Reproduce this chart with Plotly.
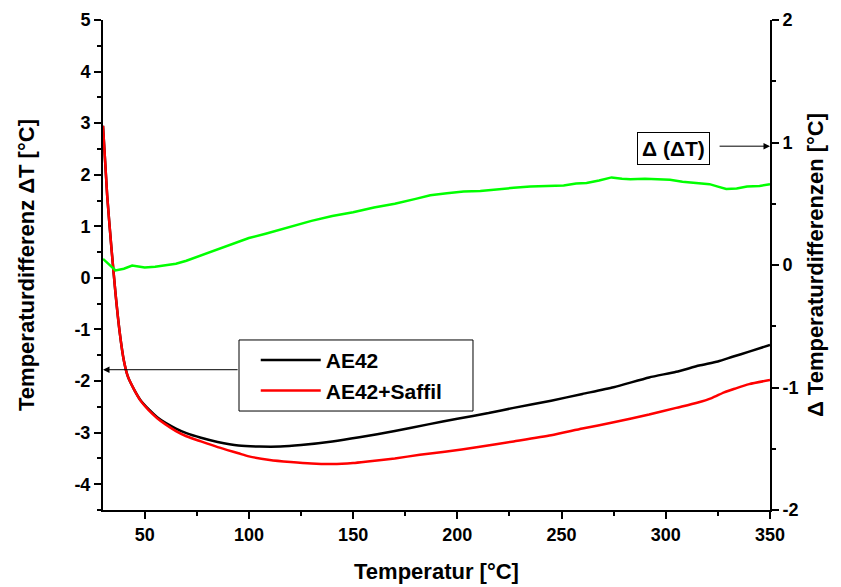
import plotly.graph_objects as go

# AE42 (left axis)
x_ae42 = [30, 32, 34, 36, 38, 40, 42, 45, 48, 52, 56, 60, 65, 70, 77, 85, 95, 105, 115, 125, 140,
          153, 170, 186, 200, 215, 227, 245, 260, 275, 292, 305, 316, 325, 332, 340, 350]
y_ae42 = [2.95, 1.6, 0.6, -0.3, -1.05, -1.6, -1.92, -2.17, -2.37, -2.55, -2.7, -2.81, -2.92, -3.01,
          -3.1, -3.18, -3.25, -3.27, -3.27, -3.24, -3.17, -3.09, -2.97, -2.84, -2.73, -2.62, -2.52,
          -2.38, -2.25, -2.12, -1.93, -1.82, -1.70, -1.62, -1.53, -1.43, -1.30]

# AE42+Saffil (left axis)
x_saffil = [30, 32, 34, 36, 38, 40, 42, 45, 48, 52, 56, 60, 65, 70, 77, 85, 95, 100, 110, 120, 130,
            140, 150, 157, 170, 182, 194, 210, 227, 245, 260, 275, 292, 305, 315, 322, 328, 333, 340, 350]
y_saffil = [2.95, 1.6, 0.6, -0.3, -1.05, -1.6, -1.92, -2.17, -2.38, -2.57, -2.72, -2.84, -2.97, -3.07,
            -3.17, -3.28, -3.40, -3.46, -3.53, -3.57, -3.60, -3.61, -3.59, -3.56, -3.50, -3.43, -3.37,
            -3.28, -3.17, -3.05, -2.92, -2.80, -2.65, -2.52, -2.42, -2.33, -2.22, -2.15, -2.06, -1.98]

# Delta(Delta T) (right axis)
x_delta = [30, 33, 36, 40, 44, 47, 50, 55, 60, 65, 70, 75, 80, 90, 100, 108, 115, 122, 130, 140, 150,
           160, 170, 180, 187, 195, 203, 211, 219, 227, 235, 243, 251, 257, 262, 268, 274, 279, 283,
           290, 296, 302, 308, 315, 321, 325, 329, 334, 339, 345, 350]
y_delta = [0.05, 0.0, -0.045, -0.03, -0.005, -0.012, -0.02, -0.015, -0.005, 0.01, 0.035, 0.065, 0.10,
           0.16, 0.22, 0.255, 0.29, 0.32, 0.36, 0.40, 0.43, 0.47, 0.50, 0.54, 0.57, 0.585, 0.60, 0.605,
           0.62, 0.63, 0.64, 0.645, 0.65, 0.665, 0.67, 0.69, 0.715, 0.705, 0.70, 0.705, 0.70, 0.695,
           0.68, 0.67, 0.66, 0.64, 0.62, 0.625, 0.64, 0.645, 0.66]

# Tick labels
left_tickvals = [-4, -3, -2, -1, 0, 1, 2, 3, 4, 5]
left_ticktext = ["-4", "-3", "-2", "-1", "0", "1", "2", "3", "4", "5"]
right_tickvals = [-2, -1, 0, 1, 2]
right_ticktext = ["-2", "-1", "0", "1", "2"]

FONT = "Liberation Sans, Arial, sans-serif"
TICKFONT = dict(family=FONT, size=18, color="black", weight="bold")
TITLEFONT = dict(family=FONT, size=22, color="black")


def axis(minor_dtick, **kw):
    d = dict(showline=True, linecolor="black", linewidth=2, ticks="outside",
             ticklen=7, tickwidth=2, tickcolor="black", showgrid=False, zeroline=False,
             automargin=False, tickfont=TICKFONT,
             minor=dict(ticks="outside", ticklen=4, tickwidth=2, tickcolor="black", dtick=minor_dtick))
    d.update(kw)
    return d


fig = go.Figure()
fig.add_trace(go.Scatter(x=x_ae42, y=y_ae42, mode="lines", name="<b>AE42</b>",
                         line=dict(color="black", width=2.5, shape="spline", smoothing=0.6)))
fig.add_trace(go.Scatter(x=x_saffil, y=y_saffil, mode="lines", name="<b>AE42+Saffil</b>",
                         line=dict(color="#ff0000", width=2.5, shape="spline", smoothing=0.6)))
fig.add_trace(go.Scatter(x=x_delta, y=y_delta, mode="lines", name="Δ(ΔT)", showlegend=False,
                         yaxis="y2", line=dict(color="#00ff00", width=2.5)))

fig.update_layout(
    width=833, height=579,
    margin=dict(l=95, r=71, t=12, b=77, autoexpand=False),
    plot_bgcolor="white", paper_bgcolor="white",
    font=dict(family=FONT, color="black"),
    xaxis=axis(25, range=[30, 350], dtick=50, tick0=0,
               title=dict(text="<b>Temperatur [°C]</b>", font=TITLEFONT, standoff=20)),
    yaxis=axis(0.5, range=[-4.5, 5], tickmode="array", tickvals=left_tickvals, ticktext=left_ticktext,
               title=dict(text="<b>Temperaturdifferenz ΔT [°C]</b>", font=TITLEFONT, standoff=34)),
    yaxis2=axis(0.5, range=[-2, 2], tickmode="array", tickvals=right_tickvals, ticktext=right_ticktext,
                overlaying="y", side="right", anchor="x",
                title=dict(text="<b>Δ Temperaturdifferenzen [°C]</b>", font=TITLEFONT, standoff=10)),
    legend=dict(x=0.229, y=0.347, xanchor="left", yanchor="top",
                bgcolor="rgba(0,0,0,0)", borderwidth=0,
                font=dict(family=FONT, size=21, color="black"),
                itemwidth=60, tracegroupgap=0),
    showlegend=True,
    shapes=[dict(type="rect", xref="paper", yref="paper", x0=0.2039, x1=0.5547, y0=0.202, y1=0.347,
                 line=dict(color="black", width=1), fillcolor="rgba(0,0,0,0)", layer="above")],
)

# Arrow from legend to left axis
fig.add_annotation(x=30, y=-1.78, xref="x", yref="y", ax=95.3, ay=-1.78, axref="x", ayref="y",
                   showarrow=True, arrowhead=2, arrowsize=1.3, arrowwidth=1, arrowcolor="black", text="")
# Delta(Delta T) label + arrow to right axis
fig.add_annotation(x=350, y=0.97, xref="x", yref="y2", ax=325.1, ay=0.97, axref="x", ayref="y2",
                   showarrow=True, arrowhead=2, arrowsize=1.3, arrowwidth=1, arrowcolor="black", text="")
fig.add_annotation(x=321, y=0.95, xref="x", yref="y2", xanchor="right", yanchor="middle",
                   text="<b>Δ (ΔT)</b>", showarrow=False, bordercolor="black", borderwidth=1,
                   borderpad=4, bgcolor="white", font=dict(family=FONT, size=21, color="black"))

fig.write_html("out.html")
